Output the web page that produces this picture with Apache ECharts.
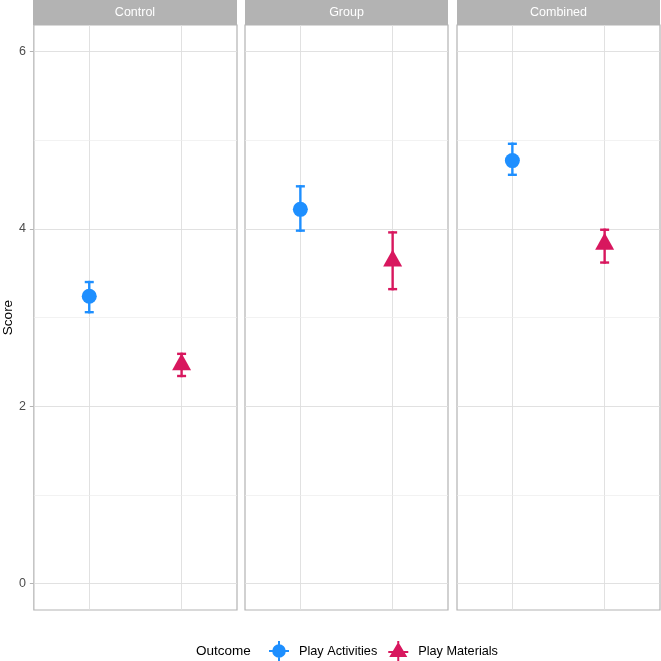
<!DOCTYPE html>
<html>
<head>
<meta charset="utf-8">
<script src="https://cdn.jsdelivr.net/npm/echarts@6/dist/echarts.min.js"></script>
<style>
html, body { margin: 0; padding: 0; background: #fff; }
#chart { width: 661px; height: 661px; }
</style>
</head>
<body>
<div id="chart"></div>
<script>
// facets and outcomes
const panels = ["Control", "Group", "Combined"];
const outcomes = ["Play Activities", "Play Materials"];
// means and error bar limits, one value per panel
const activityMean = [3.24, 4.22, 4.77];
const activityLow = [3.06, 3.98, 4.61];
const activityHigh = [3.40, 4.48, 4.96];
const materialMean = [2.47, 3.64, 3.83];
const materialLow = [2.34, 3.32, 3.62];
const materialHigh = [2.59, 3.96, 3.99];
const yTicks = [0, 2, 4, 6];
const yMinor = [1, 3, 5];

const blue = "#1E8FFF";
const pink = "#D8175E";
const font = "Liberation Sans, Arial, sans-serif";

// panel geometry
const panelLeft = [33, 245, 457];
const panelWidth = [204, 203, 203];
const panelTop = 25;
const panelHeight = 585;

const chart = echarts.init(document.getElementById("chart"));

// vertical bar + two caps, drawn as filled rects
function errorBars(params, api) {
  const x = api.value(0);
  const lo = api.coord([x, api.value(1)]);
  const hi = api.coord([x, api.value(2)]);
  const cap = 4.5, w = 2.4;
  const style = { fill: api.visual("color") };
  return {
    type: "group",
    children: [
      { type: "rect", shape: { x: lo[0] - w / 2, y: hi[1] - w / 2, width: w, height: lo[1] - hi[1] + w }, style: style },
      { type: "rect", shape: { x: lo[0] - cap, y: lo[1] - w / 2, width: cap * 2, height: w }, style: style },
      { type: "rect", shape: { x: hi[0] - cap, y: hi[1] - w / 2, width: cap * 2, height: w }, style: style }
    ]
  };
}

const grids = [], xAxes = [], yAxes = [], series = [], graphics = [];

panels.forEach((p, i) => {
  grids.push({
    left: panelLeft[i], top: panelTop, width: panelWidth[i], height: panelHeight,
    show: true, borderColor: "#b3b3b3", borderWidth: 1.2, backgroundColor: "#fff"
  });
  xAxes.push({ gridIndex: i, type: "value", min: 0.4, max: 2.6, show: false });
  yAxes.push({
    gridIndex: i, type: "value", min: -0.3, max: 6.3,
    show: i === 0,
    name: i === 0 ? "Score" : "",
    nameLocation: "middle",
    nameGap: 15,
    nameTextStyle: { color: "#000", fontSize: 13.5, fontFamily: font },
    axisLine: { show: false },
    axisTick: { show: true, length: 4, customValues: yTicks, lineStyle: { color: "#b3b3b3", width: 1 } },
    axisLabel: { customValues: yTicks, color: "#4d4d4d", fontSize: 12.5, fontFamily: font, margin: 8 },
    splitLine: { show: false }
  });

  // grid lines (markLine z defaults to 5, keep them under the marks)
  series.push({
    type: "scatter", xAxisIndex: i, yAxisIndex: i, data: [], silent: true, z: 1,
    markLine: {
      z: 1,
      silent: true, symbol: ["none", "none"], animation: false,
      label: { show: false },
      lineStyle: { color: "#dedede", width: 0.9, type: "solid" },
      emphasis: { disabled: true },
      data: [{ xAxis: 1 }, { xAxis: 2 }]
        .concat(yTicks.map(v => ({ yAxis: v })))
        .concat(yMinor.map(v => ({ yAxis: v, lineStyle: { color: "#ececec", width: 0.7 } })))
    }
  });

  series.push({
    type: "custom", name: outcomes[0], xAxisIndex: i, yAxisIndex: i, z: 3,
    itemStyle: { color: blue }, renderItem: errorBars,
    data: [[1, activityLow[i], activityHigh[i]]]
  });
  series.push({
    type: "custom", name: outcomes[1], xAxisIndex: i, yAxisIndex: i, z: 3,
    itemStyle: { color: pink }, renderItem: errorBars,
    data: [[2, materialLow[i], materialHigh[i]]]
  });
  series.push({
    type: "scatter", name: outcomes[0], xAxisIndex: i, yAxisIndex: i, z: 4,
    symbol: "circle", symbolSize: 15, itemStyle: { color: blue, opacity: 1 },
    data: [[1, activityMean[i]]]
  });
  series.push({
    type: "scatter", name: outcomes[1], xAxisIndex: i, yAxisIndex: i, z: 4,
    symbol: "triangle", symbolSize: [19, 17], symbolOffset: [0, -2.8],
    itemStyle: { color: pink, opacity: 1 },
    data: [[2, materialMean[i]]]
  });

  // facet strip
  graphics.push({
    type: "group", left: panelLeft[i], top: 0,
    children: [
      { type: "rect", shape: { x: 0, y: 0, width: panelWidth[i], height: panelTop }, style: { fill: "#b3b3b3" } },
      { type: "text", x: panelWidth[i] / 2, y: panelTop / 2 + 0.5,
        style: { text: p, fill: "#fff", fontSize: 12.5, fontFamily: font, align: "center", verticalAlign: "middle" } }
    ]
  });
});

graphics.push({
  type: "text", left: 196, top: 644,
  style: { text: "Outcome", fill: "#000", fontSize: 13.5, fontFamily: font }
});

const iconCircle = "path://M0,9L20,9L20,11L0,11Z M9,0L11,0L11,20L9,20Z M16.8,10A6.8,6.8 0 1,1 3.2,10A6.8,6.8 0 1,1 16.8,10Z";
const iconTriangle = "path://M0,10L20,10L20,12L0,12Z M9,0L11,0L11,20L9,20Z M10,1L19,16L1,16Z";

chart.setOption({
  animation: false,
  grid: grids,
  xAxis: xAxes,
  yAxis: yAxes,
  graphic: graphics,
  legend: {
    left: 269, top: 641, padding: 0,
    itemWidth: 20, itemHeight: 20, itemGap: 11,
    textStyle: { color: "#000", fontSize: 12.7, fontFamily: font, padding: [0, 0, 0, 5] },
    data: [
      { name: outcomes[0], icon: iconCircle, itemStyle: { color: blue } },
      { name: outcomes[1], icon: iconTriangle, itemStyle: { color: pink } }
    ]
  },
  series: series
});
</script>
</body>
</html>
